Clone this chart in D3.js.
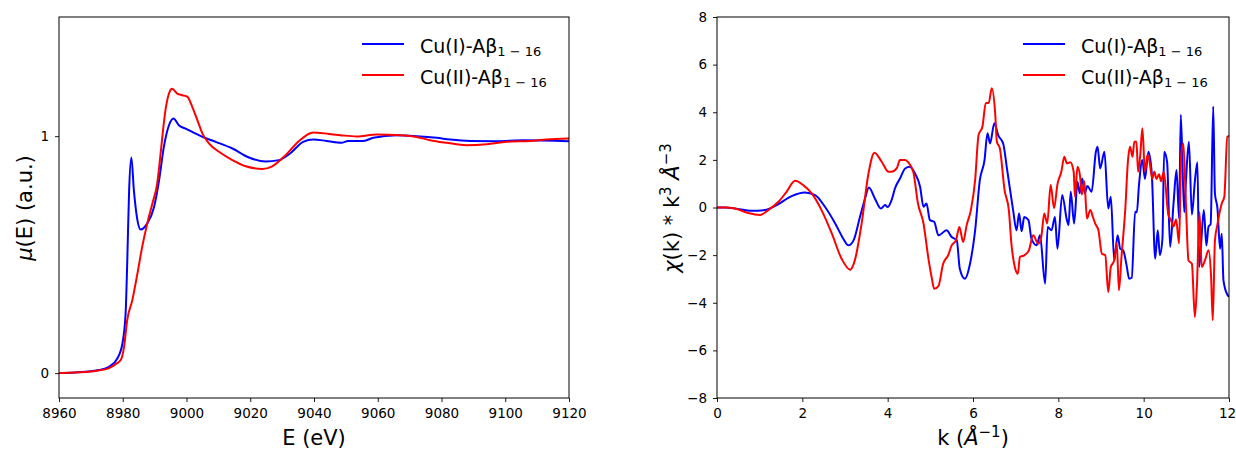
<!DOCTYPE html>
<html>
<head>
<meta charset="utf-8">
<script src="https://cdn.jsdelivr.net/npm/d3@7"></script>
<style>
  body { margin: 0; background: #fff; }
  text { font-family: "DejaVu Sans", sans-serif; fill: #000; }
</style>
</head>
<body>
<svg id="chart" width="1236" height="450"></svg>
<script>
// XANES, Cu(I)-Abeta (blue)
const cu1E = [8960, 8965, 8970, 8972.5, 8975.7, 8978.3, 8979.9, 8980.9, 8981.4, 8982.0, 8982.7, 8983.5, 8984.6, 8985.6,
  8987.7, 8989.8, 8991.4, 8992.9, 8994.5, 8995.9, 8997.6, 8999.7, 9001.8, 9005.0, 9009.2, 9014.4, 9019.6, 9024.8,
  9029.0, 9032.5, 9036.6, 9039.8, 9043.9, 9048.6, 9050.7, 9055.5, 9058.6, 9066, 9072.2, 9078.5, 9082.7, 9089,
  9097.3, 9105.7, 9120];
const cu1Mu = [0, 0.003, 0.008, 0.013, 0.027, 0.062, 0.125, 0.253, 0.464, 0.772, 0.91, 0.77, 0.646, 0.606,
  0.632, 0.70, 0.814, 0.955, 1.046, 1.075, 1.046, 1.032, 1.018, 0.997, 0.976, 0.948, 0.91, 0.893,
  0.899, 0.927, 0.976, 0.986, 0.98, 0.972, 0.98, 0.98, 0.993, 1.004, 1.0, 0.993, 0.986, 0.98,
  0.979, 0.983, 0.979];

// XANES, Cu(II)-Abeta (red)
const cu2E = [8960, 8965, 8970, 8975.7, 8978, 8979.4, 8980.4, 8981.4, 8983.0, 8984.6, 8986.1, 8987.7, 8989.3, 8990.8,
  8991.9, 8992.6, 8993.3, 8994.5, 8995.5, 8997.1, 8998.7, 9000.3, 9001.8, 9003.4, 9005.0, 9007.1, 9010.2, 9014.4,
  9018.6, 9023.8, 9026.9, 9031.1, 9035.3, 9039.8, 9048.2, 9053.4, 9059.7, 9067, 9072.2, 9076.4, 9081.6, 9087.9,
  9094.2, 9100.4, 9107.8, 9113, 9120];
const cu2Mu = [0, 0.003, 0.007, 0.021, 0.04, 0.056, 0.11, 0.224, 0.308, 0.42, 0.533, 0.632, 0.716, 0.80,
  0.93, 1.02, 1.10, 1.18, 1.20, 1.18, 1.173, 1.166, 1.124, 1.068, 1.011, 0.969, 0.934, 0.899,
  0.873, 0.862, 0.873, 0.92, 0.98, 1.016, 1.004, 0.999, 1.007, 1.004, 0.997, 0.983, 0.972, 0.962,
  0.966, 0.976, 0.98, 0.986, 0.99];

// EXAFS chi(k)*k^3, Cu(I) (blue)
const cu1K = [0, 0.2, 0.42, 0.81, 1.12, 1.40, 1.75, 2.06, 2.30, 2.53, 2.77, 2.96, 3.08, 3.2, 3.35, 3.47, 3.56, 3.70,
  3.84, 3.94, 4.0, 4.10, 4.17, 4.29, 4.41, 4.52, 4.64, 4.76, 4.84, 4.91, 4.99, 5.09, 5.19, 5.38, 5.50, 5.62,
  5.69, 5.81, 5.93, 6.05, 6.16, 6.27, 6.34, 6.40, 6.50, 6.59, 6.71, 6.79, 6.87, 6.94, 7.02, 7.08, 7.14, 7.20,
  7.30, 7.37, 7.49, 7.57, 7.69, 7.75, 7.84, 7.92, 7.98, 8.09, 8.20, 8.24, 8.29, 8.37, 8.45, 8.50, 8.56, 8.62,
  8.68, 8.78, 8.88, 8.92, 8.98, 9.08, 9.17, 9.23, 9.31, 9.39, 9.45, 9.52, 9.60, 9.66, 9.72, 9.80, 9.84, 9.89,
  9.97, 10.03, 10.11, 10.19, 10.27, 10.33, 10.38, 10.44, 10.48, 10.55, 10.62, 10.70, 10.77, 10.83, 10.87, 10.95,
  10.99, 11.06, 11.13, 11.20, 11.26, 11.30, 11.34, 11.41, 11.47, 11.52, 11.57, 11.63, 11.67, 11.73, 11.79, 11.83,
  11.87, 11.97, 12];
const cu1Chi = [0, 0, -0.04, -0.14, -0.11, 0.1, 0.48, 0.63, 0.52, 0.03, -0.67, -1.31, -1.59, -1.38, -0.40, 0.38, 0.84, 0.38,
  -0.04, 0.1, 0.02, 0.35, 0.8, 1.22, 1.64, 1.71, 1.43, 0.87, 0.03, 0.17, -0.53, -0.6, -1.17, -0.96, -1.24, -1.38,
  -2.57, -2.99, -2.36, -0.96, 1.15, 1.99, 3.12, 2.69, 3.54, 3.04, 2.67, 1.71, 0.73, -0.11, -0.96, -0.25, -1.0, -0.40,
  -0.53, -1.31, -1.59, -1.17, -3.2, -0.82, -0.96, -0.40, -1.73, 0.52, -0.52, -0.73, 0.66, -0.67, 1.08, 0.6, 1.22, 0.6,
  0.9, 0.66, 2.34, 2.55, 1.64, 2.34, -0.04, 0.45, -2.22, -1.17, -1.73, -1.8, -2.43, -2.99, -2.95, -0.18, -0.2, 0.94,
  1.99, 1.2, 2.34, 1.43, -2.15, -0.96, -2.0, -1.3, 2.34, 1.9, -1.66, 0.17, 1.57, -0.46, 3.89, -0.2,
  1.1, 2.76, -0.3, 1.1, 1.9, -2.5, -1.7, -0.1, -1.6, -0.8, -0.7, 4.24, 0.6, -0.05, -1.73, -1.1,
  -3.06, -3.69, -3.75];

// EXAFS chi(k)*k^3, Cu(II) (red)
const cu2K = [0, 0.2, 0.42, 0.73, 1.01, 1.2, 1.44, 1.63, 1.83, 2.02, 2.22, 2.45, 2.69, 2.92, 3.12, 3.23, 3.39, 3.55,
  3.69, 3.86, 4.02, 4.09, 4.21, 4.29, 4.41, 4.48, 4.60, 4.71, 4.84, 4.95, 5.03, 5.09, 5.19, 5.30, 5.42, 5.50,
  5.60, 5.68, 5.77, 5.85, 5.95, 6.05, 6.13, 6.22, 6.30, 6.37, 6.44, 6.52, 6.56, 6.63, 6.74, 6.84, 6.90, 6.98,
  7.05, 7.10, 7.21, 7.31, 7.41, 7.53, 7.60, 7.67, 7.74, 7.82, 7.90, 7.98, 8.07, 8.14, 8.20, 8.28, 8.36, 8.39,
  8.45, 8.51, 8.55, 8.61, 8.67, 8.75, 8.81, 8.87, 8.94, 9.02, 9.10, 9.17, 9.23, 9.31, 9.37, 9.42, 9.48, 9.57,
  9.63, 9.68, 9.74, 9.78, 9.83, 9.87, 9.92, 9.97, 10.03, 10.09, 10.14, 10.20, 10.25, 10.30, 10.36, 10.41, 10.47,
  10.58, 10.64, 10.70, 10.76, 10.83, 10.88, 10.93, 10.99, 11.05, 11.13, 11.20, 11.25, 11.31, 11.36, 11.44, 11.52,
  11.58, 11.62, 11.67, 11.73, 11.83, 11.89, 11.96, 12];
const cu2Chi = [0, 0, -0.04, -0.23, -0.31, -0.11, 0.24, 0.66, 1.12, 0.94, 0.59, -0.11, -1.09, -2.15, -2.61, -2.22, -0.67, 1.43,
  2.30, 1.92, 1.50, 1.5, 1.64, 1.99, 2.0, 1.9, 1.5, 0.17, -0.67, -2.08, -2.92, -3.41, -3.3, -2.36, -2.0, -1.59,
  -1.38, -0.82, -1.45, -0.75, -0.11, 1.15, 3.04, 3.39, 4.38, 4.4, 5.01, 3.96, 2.76, 2.48, 0.73, -0.11, -1.52, -2.50,
  -2.78, -2.08, -2.0, -1.80, -1.17, -1.52, -1.24, -0.25, -0.67, 0.94, -0.03, 0.98, 1.5, 2.13, 1.85, 1.9, 1.5, 0.45,
  1.71, 1.3, 0.55, 1.1, -0.46, -0.1, -0.4, -0.7, -0.96, -1.94, -2.0, -3.55, -2.5, -2.22, -1.5, -3.48, -2.08, -0.04,
  1.92, 2.55, 2.13, 2.76, 2.76, 1.5, 2.2, 3.33, 1.5, 2.2, 1.9, 1.2, 1.5, 1.2, 1.4, 1.1, 1.5,
  -0.32, -0.53, -0.8, -0.5, -1.5, 2.2, 2.69, 0.17, -2.22, -2.36, -4.6, -3.2, -0.2, -2.5, -2.2, -1.8,
  -2.9, -4.74, -1.4, -0.7, 0.17, 0.45, 2.97, 3.0];

const xanesTicksX = [8960, 8980, 9000, 9020, 9040, 9060, 9080, 9100, 9120];
const xanesTicksY = [0, 1];
const exafsTicksX = [0, 2, 4, 6, 8, 10, 12];
const exafsTicksY = [-8, -6, -4, -2, 0, 2, 4, 6, 8];

const svg = d3.select('#chart');

function drawPanel(p) {
  let x = d3.scaleLinear().domain(p.xDomain).range([p.left, p.right]);
  let y = d3.scaleLinear().domain(p.yDomain).range([p.bottom, p.top]);

  svg.append('clipPath').attr('id', p.id + '-clip')
    .append('rect')
    .attr('x', p.left).attr('y', p.top)
    .attr('width', p.right - p.left).attr('height', p.bottom - p.top);

  // the data lines
  let line = d3.line()
    .x(d => x(d[0]))
    .y(d => y(d[1]))
    .curve(d3.curveMonotoneX);

  p.series.forEach(function(s) {
    svg.append('path')
      .datum(d3.zip(s.xs, s.ys))
      .attr('clip-path', 'url(#' + p.id + '-clip)')
      .attr('fill', 'none')
      .attr('stroke', s.color)
      .attr('stroke-width', 2)
      .attr('stroke-linejoin', 'round')
      .attr('d', line);
  });

  // axes
  let xAxis = svg.append('g')
    .attr('transform', 'translate(0,' + p.bottom + ')')
    .call(d3.axisBottom(x).tickValues(p.xTicks).tickSize(4).tickPadding(6).tickFormat(d3.format('d')));
  let yAxis = svg.append('g')
    .attr('transform', 'translate(' + p.left + ',0)')
    .call(d3.axisLeft(y).tickValues(p.yTicks).tickSize(4).tickPadding(6).tickFormat(d3.format('d')));

  [xAxis, yAxis].forEach(function(g) {
    g.select('.domain').remove();
    g.selectAll('.tick line').attr('stroke', '#000').attr('stroke-width', 0.9);
    g.selectAll('.tick text')
      .style('font-family', '"DejaVu Sans", sans-serif')
      .style('font-size', '13.5px')
      .attr('fill', '#000');
  });

  // keep the last x label inside the picture
  xAxis.selectAll('.tick text')
    .filter(d => d === p.xDomain[1] && p.right > 1220)
    .attr('dx', -2);

  // frame
  svg.append('rect')
    .attr('x', p.left).attr('y', p.top)
    .attr('width', p.right - p.left).attr('height', p.bottom - p.top)
    .attr('fill', 'none')
    .attr('stroke', '#000')
    .attr('stroke-width', 1);

  // legend
  p.series.forEach(function(s, i) {
    let ly = p.legendY + i * 31;
    svg.append('line')
      .attr('x1', p.legendX).attr('x2', p.legendX + 42)
      .attr('y1', ly).attr('y2', ly)
      .attr('stroke', s.color).attr('stroke-width', 2);
    let t = svg.append('text')
      .attr('x', p.legendX + 58).attr('y', ly + 8.5)
      .style('font-size', '19px');
    t.append('tspan').text(s.label);
    t.append('tspan').attr('dy', 3).style('font-size', '13px').text('1 \u2212 16');
  });

  return { x: x, y: y };
}

drawPanel({
  id: 'xanes',
  left: 59, right: 569, top: 17, bottom: 398,
  xDomain: [8960, 9120], yDomain: [-0.105, 1.503],
  xTicks: xanesTicksX, yTicks: xanesTicksY,
  legendX: 362, legendY: 44,
  series: [
    { xs: cu1E, ys: cu1Mu, color: '#0000ff', label: 'Cu(I)-A\u03b2' },
    { xs: cu2E, ys: cu2Mu, color: '#ff0000', label: 'Cu(II)-A\u03b2' }
  ]
});

drawPanel({
  id: 'exafs',
  left: 717, right: 1229, top: 17, bottom: 398,
  xDomain: [0, 12], yDomain: [-8, 8],
  xTicks: exafsTicksX, yTicks: exafsTicksY,
  legendX: 1023, legendY: 44,
  series: [
    { xs: cu1K, ys: cu1Chi, color: '#0000ff', label: 'Cu(I)-A\u03b2' },
    { xs: cu2K, ys: cu2Chi, color: '#ff0000', label: 'Cu(II)-A\u03b2' }
  ]
});

// axis labels
svg.append('text')
  .attr('x', 314).attr('y', 445)
  .attr('text-anchor', 'middle')
  .style('font-size', '21px')
  .text('E (eV)');

let muLabel = svg.append('text')
  .attr('transform', 'translate(32,208) rotate(-90)')
  .attr('text-anchor', 'middle')
  .style('font-size', '21px');
muLabel.append('tspan').style('font-style', 'italic').text('\u03bc');
muLabel.append('tspan').text('(E) (a.u.)');

let kLabel = svg.append('text')
  .attr('x', 973).attr('y', 445)
  .attr('text-anchor', 'middle')
  .style('font-size', '21px');
kLabel.append('tspan').text('k (');
kLabel.append('tspan').style('font-style', 'italic').text('\u00c5');
kLabel.append('tspan').attr('dy', -8).style('font-size', '15px').text('\u22121');
kLabel.append('tspan').attr('dy', 8).text(')');

let chiLabel = svg.append('text')
  .attr('transform', 'translate(679,208) rotate(-90)')
  .attr('text-anchor', 'middle')
  .style('font-size', '21px');
chiLabel.append('tspan').style('font-style', 'italic').text('\u03c7');
chiLabel.append('tspan').text('(k) * k');
chiLabel.append('tspan').attr('dy', -8).style('font-size', '15px').text('3');
chiLabel.append('tspan').attr('dy', 8).text(' ');
chiLabel.append('tspan').style('font-style', 'italic').text('\u00c5');
chiLabel.append('tspan').attr('dy', -8).style('font-size', '15px').text('\u22123');
</script>
</body>
</html>
